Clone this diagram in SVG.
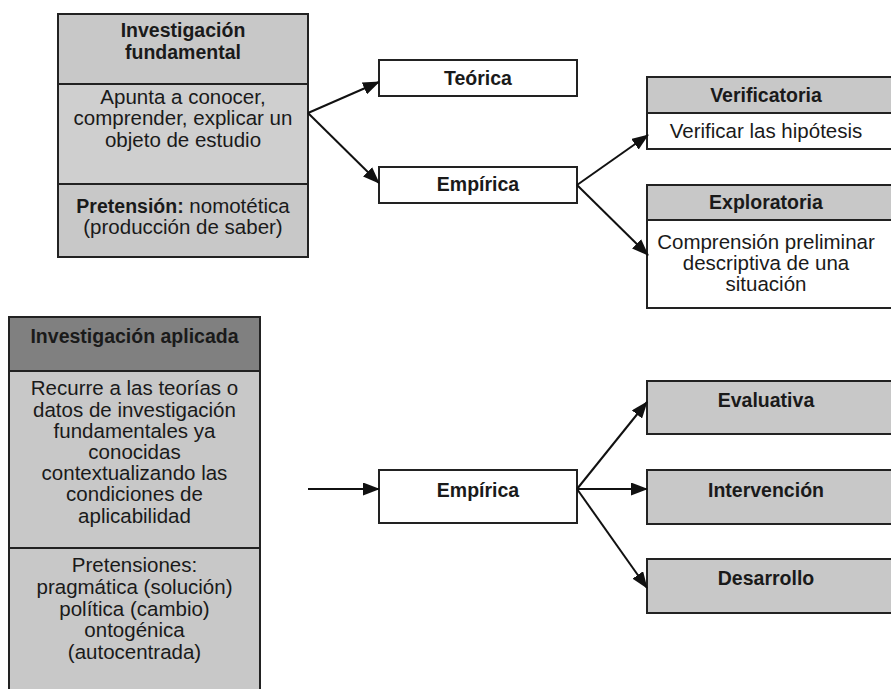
<svg xmlns="http://www.w3.org/2000/svg" width="891" height="689" viewBox="0 0 891 689">
<defs>
<style>
text{font-family:"Liberation Sans",Arial,sans-serif;font-size:20.5px;fill:#1a1a1a;text-anchor:middle}
.b{font-weight:bold;font-size:19.5px}
.box{stroke:#222;stroke-width:2}
.g{fill:#c8c8c8}
.gl{fill:#cfcfcf}
.dk{fill:#808080}
.w{fill:#fff}
.edge{stroke:#111;stroke-width:2;fill:none;marker-end:url(#ah)}
</style>
<marker id="ah" markerUnits="userSpaceOnUse" markerWidth="17" markerHeight="13" refX="16" refY="6.5" orient="auto">
<path d="M0,0 L17,6.5 L0,13 Z" fill="#111"/>
</marker>
</defs>
<rect width="891" height="689" fill="#fff"/>

<g id="fundamental">
<rect class="box g" x="58" y="14" width="250" height="70"/>
<rect class="box gl" x="58" y="84" width="250" height="100"/>
<rect class="box g" x="58" y="184" width="250" height="73"/>
<text class="b" x="183" y="37">Investigación</text>
<text class="b" x="183" y="59">fundamental</text>
<text x="183" y="104">Apunta a conocer,</text>
<text x="183" y="125">comprender, explicar un</text>
<text x="183" y="147">objeto de estudio</text>
<text x="183" y="213"><tspan class="b">Pretensión:</tspan> nomotética</text>
<text x="183" y="234">(producción de saber)</text>
</g>

<g id="teorica">
<rect class="box w" x="379" y="60" width="198" height="36"/>
<text class="b" x="478" y="85">Teórica</text>
</g>

<g id="empirica1">
<rect class="box w" x="379" y="167" width="198" height="36"/>
<text class="b" x="478" y="191">Empírica</text>
</g>

<g id="verificatoria">
<rect class="box g" x="647" y="77" width="250" height="36"/>
<rect class="box w" x="647" y="113" width="250" height="36"/>
<text class="b" x="766" y="102">Verificatoria</text>
<text x="766" y="138">Verificar las hipótesis</text>
</g>

<g id="exploratoria">
<rect class="box g" x="647" y="185" width="250" height="35"/>
<rect class="box w" x="647" y="220" width="250" height="88"/>
<text class="b" x="766" y="209">Exploratoria</text>
<text x="766" y="249">Comprensión preliminar</text>
<text x="766" y="270">descriptiva de una</text>
<text x="766" y="291">situación</text>
</g>

<g id="aplicada">
<rect class="box dk" x="9" y="317" width="251" height="54"/>
<rect class="box g" x="9" y="371" width="251" height="177"/>
<rect class="box g" x="9" y="548" width="251" height="160"/>
<text class="b" x="134.5" y="343">Investigación aplicada</text>
<text x="134.5" y="395">Recurre a las teorías o</text>
<text x="134.5" y="417">datos de investigación</text>
<text x="134.5" y="438">fundamentales ya</text>
<text x="134.5" y="459">conocidas</text>
<text x="134.5" y="480">contextualizando las</text>
<text x="134.5" y="501">condiciones de</text>
<text x="134.5" y="523">aplicabilidad</text>
<text x="134.5" y="572">Pretensiones:</text>
<text x="134.5" y="594">pragmática (solución)</text>
<text x="134.5" y="616">política (cambio)</text>
<text x="134.5" y="637">ontogénica</text>
<text x="134.5" y="659">(autocentrada)</text>
</g>

<g id="empirica2">
<rect class="box w" x="379" y="470" width="198" height="53"/>
<text class="b" x="478" y="497">Empírica</text>
</g>

<g id="evaluativa">
<rect class="box g" x="647" y="381" width="250" height="53"/>
<text class="b" x="766" y="407">Evaluativa</text>
</g>

<g id="intervencion">
<rect class="box g" x="647" y="470" width="250" height="54"/>
<text class="b" x="766" y="497">Intervención</text>
</g>

<g id="desarrollo">
<rect class="box g" x="647" y="559" width="250" height="54"/>
<text class="b" x="766" y="585">Desarrollo</text>
</g>

<g id="connectors">
<line class="edge" x1="308" y1="113" x2="379" y2="82"/>
<line class="edge" x1="308" y1="113" x2="379" y2="183"/>
<line class="edge" x1="577" y1="185" x2="648" y2="135"/>
<line class="edge" x1="577" y1="185" x2="648" y2="255"/>
<line class="edge" x1="308" y1="489" x2="379" y2="489"/>
<line class="edge" x1="577" y1="489" x2="647" y2="402"/>
<line class="edge" x1="577" y1="489" x2="647" y2="489"/>
<line class="edge" x1="577" y1="489" x2="647" y2="588"/>
</g>
</svg>
